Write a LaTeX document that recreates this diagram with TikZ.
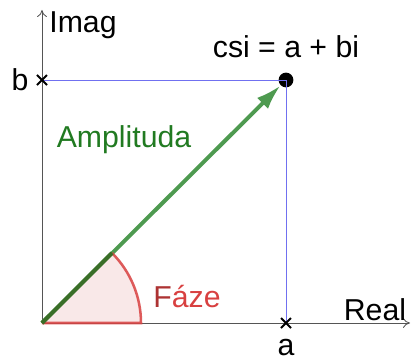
\documentclass[tikz,border=0pt]{standalone}
\usepackage{fontspec}
\setmainfont{Liberation Sans}
\usepackage{xcolor}
\usepackage{tikz}
\usetikzlibrary{arrows.meta,positioning,calc}
\definecolor{ampgreen}{HTML}{4E9A50}
\definecolor{ampdark}{HTML}{3A6E28}
\definecolor{amptext}{HTML}{217A21}
\definecolor{fazered}{HTML}{D84040}
\definecolor{fazefill}{HTML}{F8E2E2}
\definecolor{guideblue}{HTML}{7070F0}
\definecolor{axisgray}{HTML}{555555}

\begin{document}
\begin{tikzpicture}[x=0.025cm,y=0.025cm,font=\fontsize{21.5}{25}\selectfont,
  axisline/.style={draw=axisgray,line width=0.6pt,-{To[length=5pt,width=7pt]}},
  guide/.style={draw=guideblue,line width=0.4pt},
  tick/.style={draw=black,line width=1.5pt},
  lbl/.style={inner sep=1pt}]
\useasboundingbox (-42,-40) rectangle (372,323);
\coordinate (o) at (0,0);
\coordinate (xend) at (368,0);
\coordinate (yend) at (0,313);
\coordinate (pa) at (244,0);
\coordinate (pb) at (0,243);
\coordinate (arcend) at (45:99);
\node[circle,fill=black,inner sep=0pt,minimum size=10.5pt] (csi) at (244,243) {};
% axes
\draw[axisline] (o) -- (xend);
\draw[axisline] (o) -- (yend);
% guides
\draw[guide] (pb) -- (csi.center) -- (pa);
% amplitude vector
\draw[draw=ampgreen,line width=2.8pt,-{Latex[length=18pt,width=11pt]}] (o) -- (csi);
% phase sector
\fill[fazefill,opacity=0.8] (o) -- (99,0) arc[start angle=0,end angle=45,radius=99] -- cycle;
\draw[fazered,line width=1.8pt,draw opacity=0.85] (o) -- (99,0) arc[start angle=0,end angle=45,radius=99];
\draw[ampdark,line width=2.8pt] (o) -- (arcend);
% ticks
\draw[tick] ($(pa)+(-5,-5)$) -- ($(pa)+(5,5)$) ($(pa)+(-5,5)$) -- ($(pa)+(5,-5)$);
\draw[tick] ($(pb)+(-5,-5)$) -- ($(pb)+(5,5)$) ($(pb)+(-5,5)$) -- ($(pb)+(5,-5)$);
% labels
\node[lbl] (imag) at (41,298) {Imag};
\node[lbl] (real) at (333,13) {Real};
\node[lbl] (blbl) at (-22,243) {b};
\node[lbl] (albl) at (244,-25) {a};
\node[lbl] (csilbl) at (244,276) {csi = a + bi};
\node[lbl,text=amptext] (amp) at (82,183) {Amplituda};
\node[lbl,text=fazered] (faze) at (145,26) {\textcolor{fazered!80!black}{F}áze};
\end{tikzpicture}
\end{document}
